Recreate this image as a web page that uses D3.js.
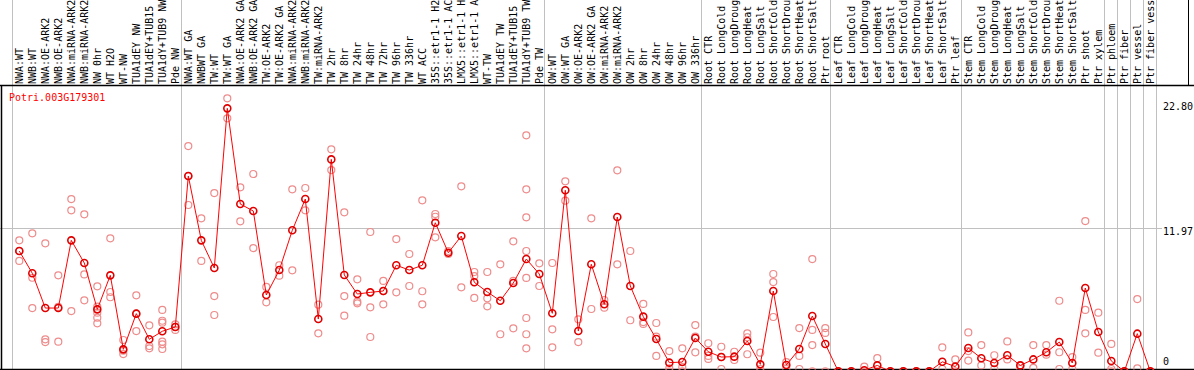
<!DOCTYPE html>
<html>
<head>
<meta charset="utf-8">
<script src="https://cdn.jsdelivr.net/npm/d3@7"></script>
<style>
body { margin: 0; background: #fff; }
svg { display: block; font-family: 'DejaVu Sans Mono', monospace; font-size: 10px; }
</style>
</head>
<body>
<svg width="1194" height="370"></svg>
<script>
const geneName = 'Potri.003G179301';

const sampleLabels = [
    'NWA:WT', 'NWB:WT', 'NWA:OE-ARK2', 'NWB:OE-ARK2', 'NWA:miRNA-ARK2', 'NWB:miRNA-ARK2',
    'NW 0hr', 'WT H2O', 'WT-NW', 'TUA1dEY NW', 'TUA1dEY+TUB15 NW', 'TUA1dY+TUB9 NW', 'Pde NW',
    'NWA:WT GA', 'NWBWT GA', 'TW:WT', 'TW:WT GA', 'NWA:OE-ARK2 GA', 'NWB:OE-ARK2 GA',
    'TW:OE-ARK2', 'TW:OE-ARK2 GA', 'NWA:miRNA-ARK2', 'NWB:miRNA-ARK2', 'TW:miRNA-ARK2',
    'TW 2hr', 'TW 8hr', 'TW 24hr', 'TW 48hr', 'TW 72hr', 'TW 96hr', 'TW 336hr', 'WT ACC',
    '35S::etr1-1 H2O', '35S::etr1-1 ACC', 'LMX5::etr1-1 H2O', 'LMX5::etr1-1 ACC', 'WT-TW',
    'TUA1dEY TW', 'TUA1dEY+TUB15 TW', 'TUA1dY+TUB9 TW', 'Pde TW',
    'OW:WT', 'OW:WT GA', 'OW:OE-ARK2', 'OW:OE-ARK2 GA', 'OW:miRNA-ARK2', 'OW:miRNA-ARK2',
    'OW 2hr', 'OW 8hr', 'OW 24hr', 'OW 48hr', 'OW 96hr', 'OW 336hr',
    'Root CTR', 'Root LongCold', 'Root LongDrought', 'Root LongHeat', 'Root LongSalt',
    'Root ShortCold', 'Root ShortDrought', 'Root ShortHeat', 'Root ShortSalt', 'Ptr root',
    'Leaf CTR', 'Leaf LongCold', 'Leaf LongDrought', 'Leaf LongHeat', 'Leaf LongSalt',
    'Leaf ShortCold', 'Leaf ShortDrought', 'Leaf ShortHeat', 'Leaf ShortSalt', 'Ptr leaf',
    'Stem CTR', 'Stem LongCold', 'Stem LongDrought', 'Stem LongHeat', 'Stem LongSalt',
    'Stem ShortCold', 'Stem ShortDrought', 'Stem ShortHeat', 'Stem ShortSalt', 'Ptr shoot',
    'Ptr xylem', 'Ptr phloem', 'Ptr fiber', 'Ptr vessel', 'Ptr fiber vessel'
];

const meanValues = [
    10.05, 8.19, 5.29, 5.29, 10.94, 9.05, 5.18, 8.02, 1.84, 4.82, 2.68, 3.35, 3.71,
    16.31, 10.94, 8.63, 21.96, 13.97, 13.39, 6.38, 8.46, 11.78, 14.39, 4.37,
    17.70, 8.05, 6.46, 6.60, 6.71, 8.86, 8.46, 8.86,
    12.41, 9.91, 11.30, 7.44, 6.63, 5.90, 7.38, 9.38, 8.13,
    4.85, 15.12, 3.37, 8.94, 5.60, 12.89, 7.13, 4.57, 2.70, 0.73, 0.78, 2.79,
    1.64, 1.20, 1.23, 2.54, 0.59, 6.71, 0.53, 1.87, 4.62, 2.29,
    0, 0, 0.1, 0.5, 0, 0, 0, 0, 0.8, 0.4,
    1.95, 1.10, 0.70, 1.35, 0.50, 1.00, 1.60, 2.45, 0.70, 6.96,
    3.29, 0.87, 0, 3.15, 0
];

const replicateValues = [
    [10.94, 10.05, 9.22], [11.53, 7.82, 5.29], [10.69, 2.68, 2.45], [8.02, 5.38, 2.48],
    [14.39, 13.45, 5.04], [13.11, 8.10, 5.93], [7.10, 5.40, 4.90, 4.48, 4.01], [11.11, 6.63, 6.19],
    [2.62, 1.73, 1.45], [6.35, 4.82, 3.37], [3.85, 2.12, 1.93], [5.13, 4.23, 4.07, 2.48, 2.26, 1.87],
    [3.93, 3.71, 3.46],
    [18.81, 16.31, 13.89], [12.78, 9.22], [14.89, 6.29, 4.71], [22.80, 21.13], [15.37, 12.53],
    [16.48, 10.30], [7.05, 5.77], [8.86, 7.99], [15.20, 8.44], [15.31, 13.45], [5.57, 3.18],
    [18.54, 16.81], [13.28, 6.29, 4.65], [7.69, 5.82, 5.68], [11.64, 5.35, 2.87], [7.55, 6.71, 5.60],
    [11.05, 6.60], [9.80, 7.13], [14.28, 6.69, 5.60],
    [13.14, 12.91, 11.19], [10.05, 9.80], [15.45, 7.02], [8.30, 7.96, 6.13], [8.30, 6.10, 5.43],
    [8.94, 3.10], [10.86, 7.55, 3.60], [19.71, 15.20, 12.86, 10.05, 7.80, 4.46, 3.10, 1.93], [9.02, 7.13],
    [9.05, 3.51, 2.01], [15.87, 14.25], [4.35, 2.45], [12.78, 5.21], [5.96, 5.32], [16.79, 8.94],
    [10.05, 4.27], [5.63, 4.12, 3.96], [4.04, 2.90, 1.29], [1.70, 0.25, 0], [1.93, 0.35, 0],
    [3.87, 2.90, 1.59],
    [2.35, 1.29, 1.04], [2.06, 1.20, 0.20], [1.64, 0.95], [3.18, 2.85, 1.43], [1.56, 0.20, 0],
    [8.13, 7.46, 4.54], [0.78, 0.20], [3.62, 1.29, 0.20], [9.38, 3.46, 2.20, 0], [3.62, 3.21, 0],
    [0, 0], [0, 0], [0.4, 0], [1.1, 0], [0, 0], [0, 0], [0, 0], [0, 0], [2.0, 0.2], [1.0, 0],
    [3.25, 1.70, 0.90], [2.20, 0.50], [1.35, 0.20], [2.50, 1.00], [0.50, 0.2], [2.20, 0.30],
    [2.20, 1.40], [5.90, 1.60, 0.20], [1.20, 0.20], [12.55, 5.13, 3.18],
    [4.90, 1.56], [2.29, 0.20, 0], [0, 0], [6.04, 0.25], [0, 0]
];

const axisTickValues = [22.80, 11.97, 0];
const groupStarts = [0, 13, 41, 53, 63, 73, 84, 85, 86, 87, 88];

const svg = d3.select('svg');
const width = +svg.attr('width');
const height = +svg.attr('height');

const headerBottom = 85.5;
const plotBottom = 369.5;

const xScale = d3.scaleLinear()
    .domain([0, sampleLabels.length - 1])
    .range([19.3, 1150.3]);

const yScale = d3.scaleLinear()
    .domain([0, 22.80])
    .range([371.4, 98.3]);

svg.append('defs').append('clipPath')
    .attr('id', 'plot-clip')
    .append('rect')
    .attr('x', 0)
    .attr('y', headerBottom)
    .attr('width', width)
    .attr('height', plotBottom - headerBottom);

// group separators
svg.append('g')
    .selectAll('line')
    .data(groupStarts)
    .join('line')
    .attr('x1', d => Math.round(xScale(d - 0.6)) + 0.5)
    .attr('x2', d => Math.round(xScale(d - 0.6)) + 0.5)
    .attr('y1', 0)
    .attr('y2', height)
    .attr('stroke', '#c0c0c0')
    .attr('stroke-width', 1);

// mid line
svg.append('line')
    .attr('x1', 0)
    .attr('x2', 1162)
    .attr('y1', Math.round(yScale(axisTickValues[1])) + 0.5)
    .attr('y2', Math.round(yScale(axisTickValues[1])) + 0.5)
    .attr('stroke', '#c0c0c0');

// sample labels
svg.append('g')
    .selectAll('text')
    .data(sampleLabels)
    .join('text')
    .attr('transform', (d, i) => `translate(${xScale(i) + 3.5}, 84) rotate(-90)`)
    .attr('fill', 'black')
    .text(d => d);

// frame
svg.append('line')
    .attr('x1', 0).attr('x2', width)
    .attr('y1', headerBottom).attr('y2', headerBottom)
    .attr('stroke', 'black').attr('stroke-width', 1.5);
svg.append('line')
    .attr('x1', 1188.5).attr('x2', 1188.5)
    .attr('y1', 0).attr('y2', headerBottom)
    .attr('stroke', 'black');
svg.append('line')
    .attr('x1', 1.5).attr('x2', 1.5)
    .attr('y1', headerBottom).attr('y2', plotBottom)
    .attr('stroke', 'black').attr('stroke-width', 1.5);
svg.append('line')
    .attr('x1', 0).attr('x2', width)
    .attr('y1', plotBottom).attr('y2', plotBottom)
    .attr('stroke', 'black').attr('stroke-width', 1.5);

// axis labels on the right
svg.append('g')
    .selectAll('text')
    .data(axisTickValues)
    .join('text')
    .attr('x', 1163)
    .attr('y', d => Math.min(Math.max(yScale(d), 103), 358))
    .attr('dominant-baseline', 'hanging')
    .attr('fill', 'black')
    .text(d => d === 0 ? '0' : d.toFixed(2));

svg.append('text')
    .attr('x', 9)
    .attr('y', 101)
    .attr('fill', 'red')
    .text(geneName);

const plot = svg.append('g').attr('clip-path', 'url(#plot-clip)');

const reps = [];
replicateValues.forEach((vals, i) => vals.forEach(v => reps.push({i, v})));

plot.append('g')
    .selectAll('circle')
    .data(reps)
    .join('circle')
    .attr('cx', d => xScale(d.i))
    .attr('cy', d => yScale(d.v))
    .attr('r', 3.5)
    .attr('fill', 'none')
    .attr('stroke', '#ee8c8c')
    .attr('stroke-width', 1.2);

const lineGen = d3.line()
    .x((d, i) => xScale(i))
    .y(d => yScale(d));

plot.append('path')
    .attr('d', lineGen(meanValues))
    .attr('fill', 'none')
    .attr('stroke', 'red')
    .attr('stroke-width', 1);

plot.append('g')
    .selectAll('circle')
    .data(meanValues)
    .join('circle')
    .attr('cx', (d, i) => xScale(i))
    .attr('cy', d => yScale(d))
    .attr('r', 3.5)
    .attr('fill', 'none')
    .attr('stroke', '#e00000')
    .attr('stroke-width', 1.6);
</script>
</body>
</html>
